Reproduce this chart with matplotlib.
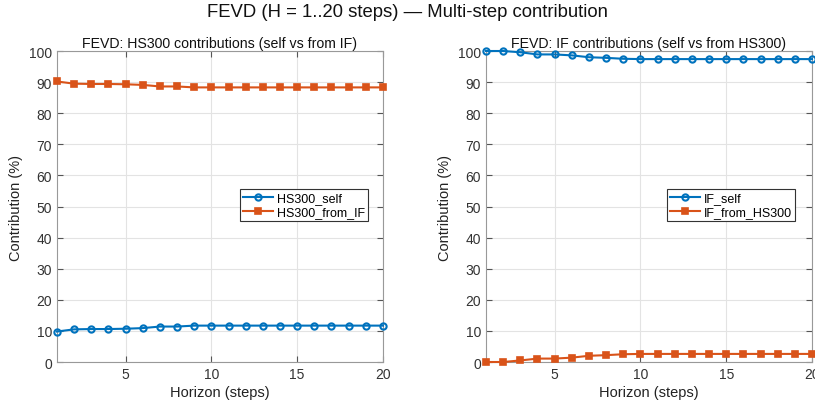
import matplotlib
matplotlib.use("Agg")
import matplotlib.pyplot as plt
import numpy as np

plt.rcParams['font.family'] = ['Liberation Sans', 'DejaVu Sans']

horizon = list(range(1, 21))
hs300_self = [9.8, 10.5, 10.6, 10.6, 10.7, 10.9, 11.4, 11.4, 11.7, 11.7,
              11.7, 11.7, 11.7, 11.7, 11.7, 11.7, 11.7, 11.7, 11.7, 11.7]
hs300_from_if = [90.2, 89.5, 89.4, 89.4, 89.3, 89.1, 88.6, 88.6, 88.3, 88.3,
                 88.3, 88.3, 88.3, 88.3, 88.3, 88.3, 88.3, 88.3, 88.3, 88.3]
if_self = [100.0, 100.0, 99.6, 98.9, 98.9, 98.6, 98.0, 97.8, 97.5, 97.4,
           97.4, 97.4, 97.4, 97.4, 97.4, 97.4, 97.4, 97.4, 97.4, 97.4]
if_from_hs300 = [0.0, 0.0, 0.5, 1.1, 1.1, 1.4, 2.0, 2.2, 2.5, 2.6,
                 2.6, 2.6, 2.6, 2.6, 2.6, 2.6, 2.6, 2.6, 2.6, 2.6]

x_ticks = [5, 10, 15, 20]
y_ticks = list(range(0, 101, 10))

BLUE = '#0072BD'
ORANGE = '#D95319'
AX_COL = '#555555'

fig = plt.figure(figsize=(8.15, 4.06), dpi=100)
fig.patch.set_facecolor('white')
fig.suptitle('FEVD (H = 1..20 steps) \u2014 Multi-step contribution',
             fontsize=13.3, y=0.99, color='#111111')

panels = [
    ([0.0699, 0.1059, 0.400, 0.766], 'FEVD: HS300 contributions (self vs from IF)',
     hs300_self, 'HS300_self', hs300_from_if, 'HS300_from_IF', (0.954, 0.556)),
    ([0.5963, 0.1059, 0.400, 0.766], 'FEVD: IF contributions (self vs from HS300)',
     if_self, 'IF_self', if_from_hs300, 'IF_from_HS300', (0.948, 0.556)),
]

for rect, title, s1, l1, s2, l2, anchor in panels:
    ax = fig.add_axes(rect)
    ax.plot(horizon, s1, color=BLUE, lw=1.5, marker='o', ms=4.5,
            mfc='none', mew=1.5, label=l1, clip_on=False, zorder=3)
    ax.plot(horizon, s2, color=ORANGE, lw=1.5, marker='s', ms=4,
            mfc=ORANGE, mew=1.2, label=l2, clip_on=False, zorder=3)
    ax.set_xlim(1, 20)
    ax.set_ylim(0, 100)
    ax.set_xticks(x_ticks)
    ax.set_yticks(y_ticks)
    ax.grid(True, color='#e3e3e3', lw=0.8)
    ax.set_axisbelow(True)
    ax.tick_params(direction='in', top=True, right=True, length=4,
                   labelsize=10, colors=AX_COL, labelcolor='#333333')
    for sp in ax.spines.values():
        sp.set_color('#999999')
        sp.set_linewidth(0.8)
    ax.set_title(title, fontsize=10.2, pad=3, color='#111111')
    ax.set_xlabel('Horizon (steps)', fontsize=10.5, color='#222222', labelpad=3)
    ax.set_ylabel('Contribution (%)', fontsize=10.5, color='#222222', labelpad=4)
    leg = ax.legend(loc='upper right', bbox_to_anchor=anchor, fontsize=9,
                    fancybox=False, framealpha=1, edgecolor='#333333',
                    handlelength=2.4, borderpad=0.25, labelspacing=0.15,
                    handletextpad=0.3, borderaxespad=0)
    leg.get_frame().set_linewidth(0.8)

fig.savefig('out.png', dpi=100, facecolor='white')
